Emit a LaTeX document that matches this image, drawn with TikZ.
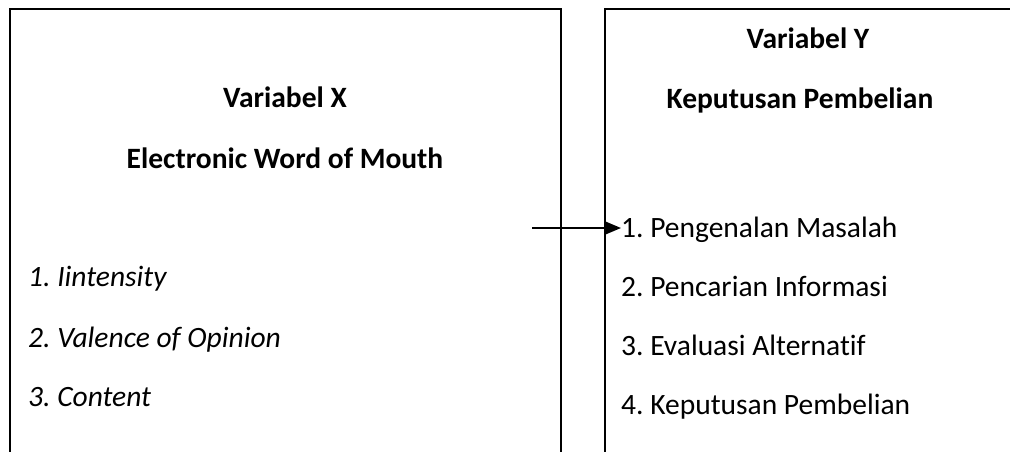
\documentclass[tikz,border=0pt]{standalone}
\usepackage{fontspec}
\setmainfont{Carlito}[Ligatures={NoCommon}]
\usetikzlibrary{arrows.meta}
\tikzset{
  boxline/.style={line width=1.8pt, black},
  head/.style={font=\fontsize{29.5}{34}\selectfont\bfseries, anchor=base, inner sep=0pt},
  itemx/.style={font=\fontsize{29.5}{34}\selectfont\itshape, anchor=base west, inner sep=0pt},
  itemy/.style={font=\fontsize{29.5}{34}\selectfont, anchor=base west, inner sep=0pt},
  link/.style={line width=1.8pt, -{Triangle[length=16pt,width=13pt]}}
}
\begin{document}
\frenchspacing
\begin{tikzpicture}[x=1pt,y=-1pt]
\useasboundingbox (0,0) rectangle (1010,451);
\clip (0,0) rectangle (1010,451);
% boxes (open at the bottom, right box runs off the right edge)
\draw[boxline] (10,460) -- (10,9) -- (561,9) -- (561,460);
\draw[boxline] (605,460) -- (605,9) -- (1020,9);
% left box texts
\node[head] (hx1) at (285,107) {Variabel X};
\node[head] (hx2) at (285,168) {Electronic Word of Mouth};
\node[itemx] (x1) at (28,286) {1. Iintensity};
\node[itemx] (x2) at (28,347) {2. Valence of Opinion};
\node[itemx] (x3) at (28,406) {3. Content};
% right box texts
\node[head] (hy1) at (808,48) {Variabel Y};
\node[head] (hy2) at (800,108) {Keputusan Pembelian};
\node[itemy] (y1) at (621,237) {1. Pengenalan Masalah};
\node[itemy] (y2) at (621,296) {2. Pencarian Informasi};
\node[itemy] (y3) at (621,355) {3. Evaluasi Alternatif};
\node[itemy] (y4) at (621,414) {4. Keputusan Pembelian};
% connector
\coordinate (a0) at (532,228);
\draw[link] (a0) -- (y1.base west |- a0);
\end{tikzpicture}
\end{document}
